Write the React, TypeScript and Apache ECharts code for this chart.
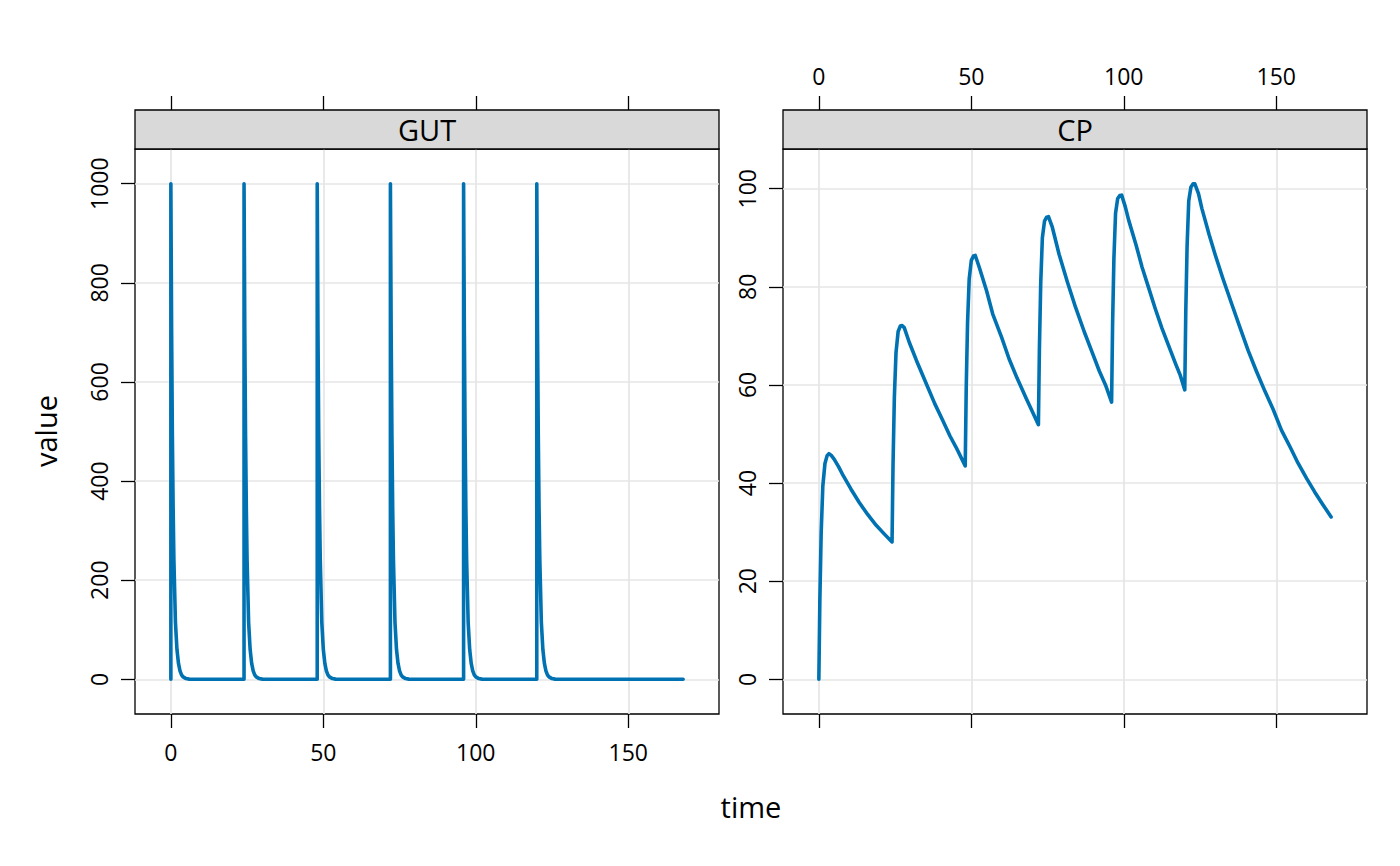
import React, { useEffect, useRef } from 'react';
import * as echarts from 'echarts';

// ---- data ----
const xTicks = [0, 50, 100, 150];
const gutTicks = [0, 200, 400, 600, 800, 1000];
const cpTicks = [0, 20, 40, 60, 80, 100];

const gutTime = [
  0, 0, 0.25, 0.5, 0.75, 1, 1.5, 2, 2.5, 3, 3.5, 4, 5, 6, 8,
  24, 24, 24.25, 24.5, 24.75, 25, 25.5, 26, 26.5, 27, 27.5, 28, 29, 30, 32,
  48, 48, 48.25, 48.5, 48.75, 49, 49.5, 50, 50.5, 51, 51.5, 52, 53, 54, 56,
  72, 72, 72.25, 72.5, 72.75, 73, 73.5, 74, 74.5, 75, 75.5, 76, 77, 78, 80,
  96, 96, 96.25, 96.5, 96.75, 97, 97.5, 98, 98.5, 99, 99.5, 100, 101, 102, 104,
  120, 120, 120.25, 120.5, 120.75, 121, 121.5, 122, 122.5, 123, 123.5, 124, 125, 126, 128,
  168,
];
const gutValue = [
  0, 1000, 700, 490, 345, 240, 115, 60, 32, 17, 9, 5, 1.5, 0.4, 0,
  0, 1000, 700, 490, 345, 240, 115, 60, 32, 17, 9, 5, 1.5, 0.4, 0,
  0, 1000, 700, 490, 345, 240, 115, 60, 32, 17, 9, 5, 1.5, 0.4, 0,
  0, 1000, 700, 490, 345, 240, 115, 60, 32, 17, 9, 5, 1.5, 0.4, 0,
  0, 1000, 700, 490, 345, 240, 115, 60, 32, 17, 9, 5, 1.5, 0.4, 0,
  0, 1000, 700, 490, 345, 240, 115, 60, 32, 17, 9, 5, 1.5, 0.4, 0,
  0,
];

const cpTime = [
  0, 0.33, 0.76, 1.3, 2.0, 2.7, 3.3, 4.0, 5.0, 6.5, 8.0, 10.5, 13.3, 16, 18.8, 21.5, 24,
  24.33, 24.76, 25.3, 26.0, 26.7, 27.3, 28, 29.7, 32, 35.2, 38, 40.6, 43, 45, 48,
  48.33, 48.76, 49.3, 50.0, 50.7, 51.3, 52.6, 55, 57, 60, 62.4, 65, 67.9, 70, 72,
  72.33, 72.76, 73.3, 74.0, 74.7, 75.3, 76.5, 78.8, 81.5, 84.2, 87, 89.6, 92, 94, 96,
  96.33, 96.76, 97.3, 98.0, 98.7, 99.3, 100.5, 101.6, 104, 106, 108, 110.3, 112.5, 114.7, 117, 118.5, 120,
  120.33, 120.76, 121.3, 122.0, 122.7, 123.3, 124.5, 125.6, 128, 130, 132.5, 135.4, 138, 140.8, 143.5,
  146.3, 149, 151.7, 154.5, 157.2, 160, 162.6, 165.3, 168,
];
const cpValue = [
  0, 16.3, 29.9, 39.4, 44.0, 45.6, 46.0, 45.7, 44.9, 43.3, 41.5, 38.8, 36.0, 33.6, 31.4, 29.6, 28.0,
  44.0, 57.5, 66.6, 70.9, 72.0, 72.1, 71.7, 68.6, 65.0, 60.3, 56.2, 52.8, 49.6, 47.3, 43.5,
  59.5, 72.6, 81.6, 85.4, 86.3, 86.4, 84.0, 79.2, 74.5, 69.6, 65.3, 61.4, 57.4, 54.6, 51.9,
  67.5, 80.8, 90.0, 93.4, 94.2, 94.3, 92.3, 86.6, 81.0, 75.8, 70.9, 66.7, 62.8, 60.0, 56.5,
  72.5, 85.8, 95.0, 98.0, 98.6, 98.7, 96.3, 93.6, 88.6, 84.0, 80.1, 75.6, 71.6, 68.0, 64.3, 62.0, 59.0,
  75.0, 88.3, 97.5, 100.3, 101.0, 101.0, 99.0, 96.0, 90.6, 86.5, 81.7, 76.5, 71.9, 67.0, 62.8,
  58.7, 55.0, 50.8, 47.4, 44.0, 40.9, 38.2, 35.6, 33.1,
];

// ---- layout / style ----
const FONT = '"Open Sans", "Noto Sans", sans-serif';
const X_MIN = -11.76;
const X_MAX = 179.76;
const GUT_MIN = -70;
const GUT_MAX = 1070;
const CP_MIN = -7.07;
const CP_MAX = 108.1;
const LEFT1 = 135;
const LEFT2 = 783;
const PW = 584;
const TOP = 149;
const PH = 565;
const STRIP_H = 39;
const BLUE = '#0072B2';
const GRID_COL = '#e6e6e6';
const TICK_FS = 23;
const TITLE_FS = 29;

const tickStyle = { lineStyle: { color: '#000', width: 1.3 } };
const plainNum = (v: number) => String(v);

function xAxisCfg(gridIndex: number, position: string, showLabel: boolean, split: boolean) {
  return {
    type: 'value',
    gridIndex,
    position,
    offset: position === 'top' ? STRIP_H : 0,
    min: X_MIN,
    max: X_MAX,
    axisLine: { show: false, onZero: false },
    axisTick: { show: true, inside: false, length: 14, customValues: xTicks, ...tickStyle },
    axisLabel: {
      show: showLabel,
      customValues: xTicks,
      formatter: plainNum,
      margin: position === 'top' ? 23 : 26,
      fontSize: TICK_FS,
      color: '#000',
      fontFamily: FONT,
    },
    splitLine: { show: split, lineStyle: { color: GRID_COL, width: 1.7 } },
  };
}

function yAxisCfg(gridIndex: number, min: number, max: number, ticks: number[]) {
  return {
    type: 'value',
    gridIndex,
    position: 'left',
    min,
    max,
    axisLine: { show: false, onZero: false },
    axisTick: { show: true, inside: false, length: 14, customValues: ticks, ...tickStyle },
    axisLabel: {
      show: true,
      customValues: ticks,
      formatter: plainNum,
      rotate: 90,
      margin: 25,
      fontSize: TICK_FS,
      color: '#000',
      fontFamily: FONT,
    },
    splitLine: { show: true, lineStyle: { color: GRID_COL, width: 1.7 } },
  };
}

function strip(left: number, label: string) {
  return [
    {
      type: 'rect',
      shape: { x: left, y: TOP - STRIP_H, width: PW, height: STRIP_H },
      style: { fill: '#d9d9d9', stroke: '#000', lineWidth: 1.3 },
      z: 10,
    },
    {
      type: 'text',
      x: left + PW / 2,
      y: TOP - STRIP_H / 2,
      style: {
        text: label,
        fontSize: TITLE_FS,
        fontFamily: FONT,
        fill: '#000',
        textAlign: 'center',
        textVerticalAlign: 'middle',
      },
      z: 11,
    },
  ];
}

export default function App() {
  const ref = useRef<HTMLDivElement>(null);
  useEffect(() => {
    if (!ref.current) return;
    const chart = echarts.init(ref.current, null, { renderer: 'svg' });
    const gutData = gutTime.map((t, i) => [t, gutValue[i]]);
    const cpData = cpTime.map((t, i) => [t, cpValue[i]]);
    chart.setOption({
      animation: false,
      backgroundColor: '#fff',
      textStyle: { fontFamily: FONT },
      grid: [
        { left: LEFT1, top: TOP, width: PW, height: PH, show: true, borderColor: '#000', borderWidth: 1.3, containLabel: false },
        { left: LEFT2, top: TOP, width: PW, height: PH, show: true, borderColor: '#000', borderWidth: 1.3, containLabel: false },
      ],
      xAxis: [
        xAxisCfg(0, 'bottom', true, true),
        xAxisCfg(0, 'top', false, false),
        xAxisCfg(1, 'top', true, false),
        xAxisCfg(1, 'bottom', false, true),
      ],
      yAxis: [yAxisCfg(0, GUT_MIN, GUT_MAX, gutTicks), yAxisCfg(1, CP_MIN, CP_MAX, cpTicks)],
      series: [
        {
          name: 'GUT',
          type: 'line',
          xAxisIndex: 0,
          yAxisIndex: 0,
          data: gutData,
          showSymbol: false,
          symbol: 'none',
          lineStyle: { color: BLUE, width: 3.6, join: 'round', cap: 'round' },
          z: 5,
        },
        {
          name: 'CP',
          type: 'line',
          xAxisIndex: 3,
          yAxisIndex: 1,
          data: cpData,
          showSymbol: false,
          symbol: 'none',
          lineStyle: { color: BLUE, width: 3.6, join: 'round', cap: 'round' },
          z: 5,
        },
      ],
      graphic: [
        ...strip(LEFT1, 'GUT'),
        ...strip(LEFT2, 'CP'),
        {
          type: 'text',
          x: 751,
          y: 806,
          style: { text: 'time', fontSize: TITLE_FS, fontFamily: FONT, fill: '#000', textAlign: 'center', textVerticalAlign: 'middle' },
        },
        {
          type: 'text',
          x: 45,
          y: 431,
          rotation: Math.PI / 2,
          style: { text: 'value', fontSize: TITLE_FS, fontFamily: FONT, fill: '#000', textAlign: 'center', textVerticalAlign: 'middle' },
        },
      ],
    });
    return () => chart.dispose();
  }, []);
  return (
    <div
      ref={ref}
      style={{ position: 'fixed', left: 0, top: 0, width: 1400, height: 866, background: '#fff' }}
    />
  );
}
